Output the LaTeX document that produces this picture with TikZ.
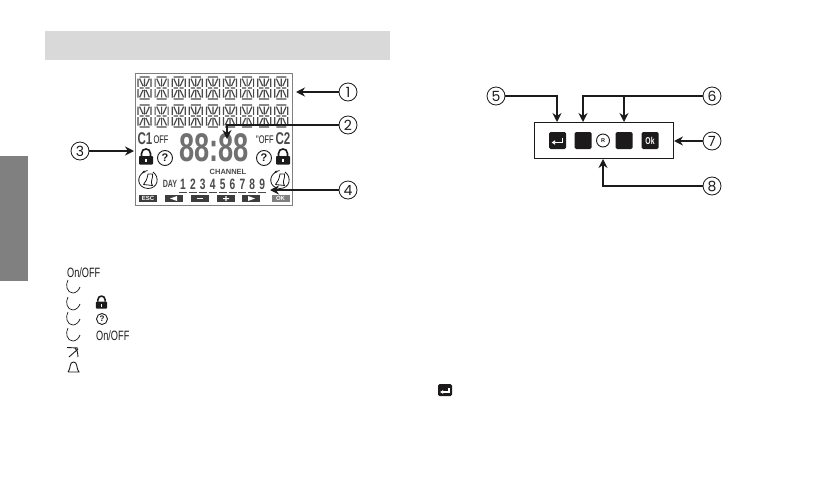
\documentclass[tikz,border=0pt]{standalone}
\usepackage{fontspec}
\setmainfont{Liberation Sans}
\newfontfamily\numfont{Poppins}
\newfontfamily\narrowfont[FakeStretch=0.68]{Liberation Sans}
\usetikzlibrary{arrows.meta,positioning,calc}
\definecolor{ink}{HTML}{1C1A1B}
\definecolor{lcdgray}{HTML}{4A4A4A}
\definecolor{clockgray}{HTML}{707070}
\definecolor{framegray}{HTML}{7F7F7F}
\definecolor{headerbar}{HTML}{D9D9D9}
\definecolor{sidetab}{HTML}{808080}
\tikzset{
  segchar/.pic={
    \draw[lcdgray,line width=1.2pt]
      (1.5,0) -- (11.5,0) (1.5,22) -- (11.5,22)
      (0,1.5) -- (0,9.8) (0,12.2) -- (0,20.5) (13,1.5) -- (13,9.8) (13,12.2) -- (13,20.5)
      (1.5,11) -- (5.6,11) (7.4,11) -- (11.5,11)
      (6.5,1.5) -- (6.5,9.5) (6.5,12.5) -- (6.5,20.5)
      (1.6,1.6) -- (5,9) (11.4,1.6) -- (8,9) (1.6,20.4) -- (5,13) (11.4,20.4) -- (8,13);
  },
  padlock/.pic={
    \draw[ink,line width=1.6pt] (-4.5,-1) -- (-4.5,-3.5) .. controls (-4.5,-9.5) and (4.5,-9.5) .. (4.5,-3.5) -- (4.5,-1);
    \fill[ink,rounded corners=0.8pt] (-7,-1) rectangle (7,7.5);
    \fill[white] (-1,1.5) rectangle (1,5);
  },
  timerbell/.pic={
    \draw[ink,line width=0.8pt] (-4,-8) .. controls (-12,-4) and (-11,8) .. (0,8.5)
      .. controls (10,8.5) and (12,-3) .. (5,-8);
    \draw[ink,line width=0.8pt,-{Stealth[length=3pt]}] (-0.5,-9.5) -- (-6,-7.5);
    \draw[ink,line width=0.8pt] (-4.5,4.5) -- (4.5,5.5) .. controls (1.5,2) and (5.5,-2) .. (4.5,-6)
      -- (0,-6) .. controls (-1,-1) and (-2,2) .. (-4.5,4.5);
  },
  timearc/.pic={
    \draw[ink,line width=0.7pt] (1,0) .. controls (-2,5) and (0,13) .. (6,13)
      .. controls (9,13) and (12,10) .. (13,7);
  }
}
\begin{document}
\begin{tikzpicture}[x=1pt,y=-1pt,
  callnum/.style={circle,draw=ink,line width=0.8pt,inner sep=0pt,minimum size=18pt,
    text=ink,font=\numfont\fontsize{14}{14}\selectfont},
  callout/.style={-{Stealth[length=9pt,width=9pt,inset=3pt]},line width=1.7pt,draw=ink},
  softkey/.style={fill=ink,rounded corners=1.5pt,inner sep=0pt,text=white},
  lcdkey/.style={fill=ink!85,inner sep=0pt,minimum width=18pt,minimum height=7pt,text=white,
    font=\bfseries\fontsize{6}{6}\selectfont},
  lcdsym/.style={inner sep=0pt,text=lcdgray,font=\narrowfont\bfseries\fontsize{10}{10}\selectfont},
  offtext/.style={inner sep=0pt,text=ink,font=\narrowfont\fontsize{11}{11}\selectfont},
  listtext/.style={offtext,font=\narrowfont\fontsize{13.5}{13.5}\selectfont},
  quest/.style={circle,draw=ink,line width=0.9pt,inner sep=0pt,minimum size=#1,text=ink}
]
\useasboundingbox (0,0) rectangle (822,482);
\fill[white] (0,0) rectangle (822,482);
\node[fill=headerbar,minimum width=345pt,minimum height=29pt,inner sep=0pt] (header) at (217.5,45.5) {};
\node[fill=sidetab,minimum width=28pt,minimum height=125pt,inner sep=0pt] (tab) at (14,218.5) {};
% display panel
\node[draw=framegray,line width=0.9pt,minimum width=157pt,minimum height=132pt,inner sep=0pt] (lcd) at (213.5,139) {};
\foreach \row in {77,105}
  \foreach \col in {0,...,8}
    \pic at ({138+\col*17.1},\row) {segchar};
\node[lcdsym,font=\narrowfont\bfseries\fontsize{17}{17}\selectfont] (cone) at (145,139) {C1};
\node[offtext] (offa) at (161,140) {OFF};
\node[lcdsym,text=clockgray,font=\narrowfont\bfseries\fontsize{40}{40}\selectfont] (clock) at (214,148) {88:88};
\node[offtext] (offb) at (265,140) {"OFF};
\node[lcdsym,font=\narrowfont\bfseries\fontsize{17}{17}\selectfont] (ctwo) at (283,139) {C2};
\pic at (146,157) {padlock};
\pic at (283,157) {padlock};
\node[quest=15pt,font=\bfseries\fontsize{11}{11}\selectfont] (qa) at (165,158) {?};
\node[quest=15pt,font=\bfseries\fontsize{11}{11}\selectfont] (qb) at (264,158) {?};
\pic at (148,180) {timerbell};
\pic at (280,180) {timerbell};
\node[inner sep=0pt,text=lcdgray,font=\bfseries\fontsize{7.5}{7.5}\selectfont] (chan) at (228,172) {CHANNEL};
\node[lcdsym,font=\narrowfont\bfseries\fontsize{10.5}{10.5}\selectfont] (dayl) at (170,184) {DAY};
\foreach \num [count=\i from 0] in {1,...,9} {
  \node[lcdsym,font=\narrowfont\bfseries\fontsize{15}{15}\selectfont] (day\num) at ({183+\i*9.9},184.5) {\num};
  \draw[lcdgray,line width=0.9pt] ({179+\i*9.9},192.5) -- ({187+\i*9.9},192.5);
}
\node[lcdkey] (esc) at (148,198.5) {ESC};
\node[lcdkey] (kleft) at (174,198.5) {};
\node[lcdkey] (kminus) at (199.5,198.5) {};
\node[lcdkey] (kplus) at (226,198.5) {};
\node[lcdkey] (kright) at (251,198.5) {};
\node[lcdkey,fill=framegray] (kok) at (280.5,198.5) {OK};
\fill[white] (170,198.5) -- (177,196) -- (177,201) -- cycle;
\fill[white] (255,198.5) -- (248,196) -- (248,201) -- cycle;
\fill[white] (196.5,198) rectangle (202.5,199.2);
\fill[white] (223,198) rectangle (229,199.2) (225.4,196) rectangle (226.6,201.2);
% key panel
\node[draw=ink,line width=0.9pt,minimum width=139pt,minimum height=36pt,inner sep=0pt] (panel) at (603.5,140) {};
\node[softkey,minimum size=17pt] (kenter) at (557.5,140.5) {};
\node[softkey,minimum size=17pt] (kone) at (583,140.5) {};
\node[softkey,minimum size=17pt] (ktwo) at (624,140.5) {};
\node[softkey,minimum size=17pt,font=\narrowfont\bfseries\fontsize{10}{10}\selectfont] (kokay) at (650,140.5) {Ok};
\node[quest=13pt,font=\bfseries\fontsize{5.5}{5.5}\selectfont] (kreset) at (603,140.5) {R};
\draw[white,line width=1.5pt,-{Latex[length=3.5pt,width=5pt]}] ([shift={(5,-3)}]kenter.center) |- ([shift={(-6,2)}]kenter.center);
% callouts
\node[callnum] (numa) at (348,92) {1};
\node[callnum] (numb) at (348,125) {2};
\node[callnum] (numc) at (80,151) {3};
\node[callnum] (numd) at (348,190) {4};
\node[callnum] (nume) at (496,96) {5};
\node[callnum] (numf) at (712,96) {6};
\node[callnum] (numg) at (712,141) {7};
\node[callnum] (numh) at (712,186) {8};
\coordinate (tipa) at (296,92);
\coordinate (tipb) at (227,139);
\coordinate (tipc) at (134,151);
\coordinate (tipd) at (270,190);
\coordinate (tipe) at (557,122);
\coordinate (tipf) at (583,122);
\coordinate (tipg) at (624,122);
\coordinate (tiph) at (674,141);
\coordinate (tipi) at (603,159);
\draw[callout] (numa) -- (tipa);
\draw[callout] (numb) -| (tipb);
\draw[callout] (numc) -- (tipc);
\draw[callout] (numd) -- (tipd);
\draw[callout] (nume) -| (tipe);
\draw[callout] (numf) -| (tipf);
\draw[callout] (tipg |- numf) -- (tipg);
\draw[callout] (numg) -- (tiph);
\draw[callout] (numh) -| (tipi);
% symbol list
\node[listtext,anchor=west] (lista) at (67,273) {On/OFF};
\foreach \ypos in {280,297,312,328}
  \pic at (67,\ypos) {timearc};
\pic[scale=0.8] at (101.5,302.5) {padlock};
\node[quest=11pt,font=\bfseries\fontsize{8}{8}\selectfont] (listq) at (102,319) {?};
\node[listtext,anchor=west] (listb) at (96,335.5) {On/OFF};
\draw[ink,line width=0.9pt] (67,347.5) -- (78,348) (69,357) -- (78,349) (75,348) .. controls (77.5,351) .. (78,357);
\draw[ink,line width=0.9pt] (68,372) -- (79,372) .. controls (76,369) and (78,362) .. (73.5,362)
  .. controls (69,362) and (71,369) .. (68,372);
\node[softkey,minimum width=14pt,minimum height=12pt] (kentersmall) at (445,390) {};
\draw[white,line width=1.2pt,-{Latex[length=3pt,width=4pt]}] ([shift={(4,-2)}]kentersmall.center) |- ([shift={(-5,2)}]kentersmall.center);
\end{tikzpicture}
\end{document}
